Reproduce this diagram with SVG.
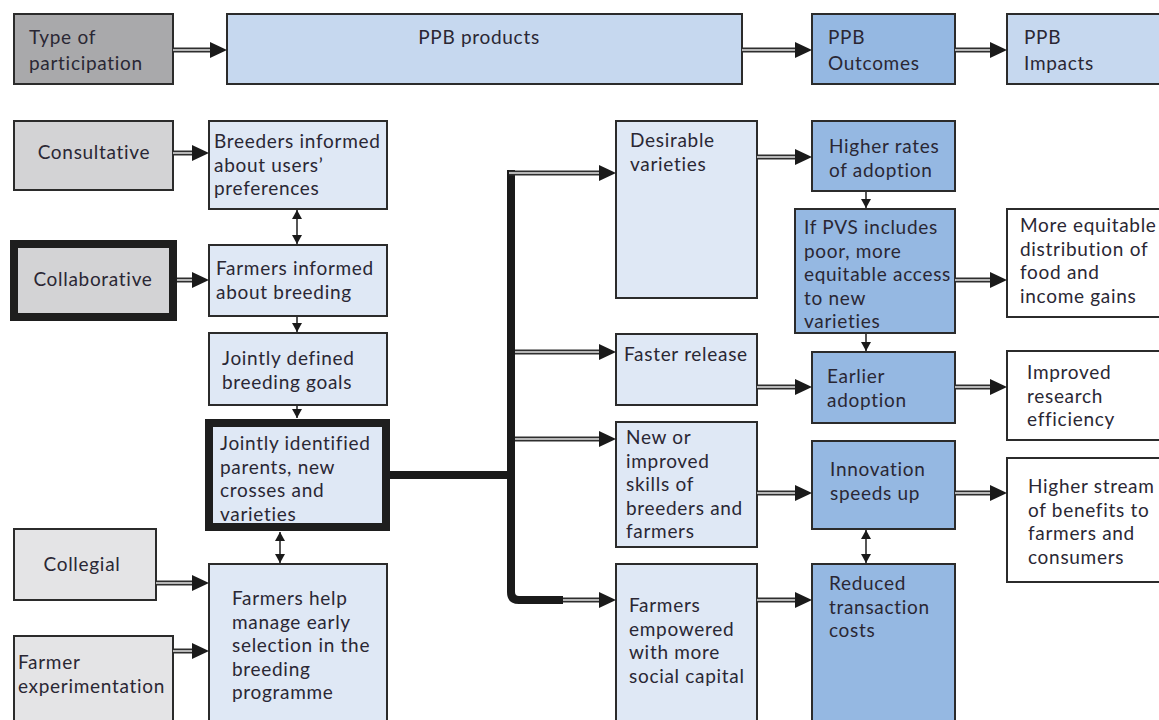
<svg xmlns="http://www.w3.org/2000/svg" width="1159" height="720" viewBox="0 0 1159 720">
<style>
  .box{stroke:#2b2b2b;stroke-width:2}
  .thick{stroke:#1e1e1e;stroke-width:8}
  .g1{fill:#a9a9ab}
  .g2{fill:#d3d3d5}
  .g3{fill:#e4e4e6}
  .b1{fill:#c6d8ef}
  .b2{fill:#95b8e2}
  .b3{fill:#dfe8f5}
  .w{fill:#ffffff}
  text{font-family:Lato,"Open Sans",sans-serif;font-size:19px;letter-spacing:0.7px;fill:#2a2734}
  .c{text-anchor:middle}
  .dbl{stroke:#2e2e2e;stroke-width:5;fill:none}
  .dblin{stroke:#e6e6e6;stroke-width:1.5;fill:none}
  .sm{stroke:#2b2b2b;stroke-width:1.6;fill:none}
  .bar{stroke:#1a1a1a;stroke-width:8;fill:none}
</style>
<defs>
  <marker id="bh" viewBox="0 0 17 16" refX="0" refY="8" markerWidth="17" markerHeight="16" markerUnits="userSpaceOnUse" orient="auto">
    <path d="M0,0 L17,8 L0,16 z" fill="#1a1a1a"/>
  </marker>
  <marker id="sh" viewBox="0 0 9 10" refX="9" refY="5" markerWidth="9" markerHeight="10" markerUnits="userSpaceOnUse" orient="auto-start-reverse">
    <path d="M0,0 L9,5 L0,10 z" fill="#1a1a1a"/>
  </marker>
</defs>
<rect width="1159" height="720" fill="#ffffff"/>

<g id="type-of-participation"><rect class="box g1" x="14" y="14" width="159" height="70"/><text x="29" y="44">Type of<tspan x="29" dy="26">participation</tspan></text></g>
<g id="ppb-products"><rect class="box b1" x="227" y="14" width="515" height="70"/><text class="c" x="479" y="44">PPB products</text></g>
<g id="ppb-outcomes"><rect class="box b2" x="812" y="14" width="143" height="70"/><text x="828" y="44">PPB<tspan x="828" dy="26">Outcomes</tspan></text></g>
<g id="ppb-impacts"><rect class="box b1" x="1007" y="14" width="162" height="70"/><text x="1024" y="44">PPB<tspan x="1024" dy="26">Impacts</tspan></text></g>

<g id="consultative"><rect class="box g2" x="14" y="121" width="159" height="69"/><text class="c" x="94" y="159">Consultative</text></g>
<g id="collaborative"><rect class="thick g2" x="14" y="244" width="159" height="73"/><text class="c" x="93" y="286">Collaborative</text></g>
<g id="collegial"><rect class="box g3" x="14" y="529" width="142" height="71"/><text class="c" x="82" y="571">Collegial</text></g>
<g id="farmer-experimentation"><rect class="box g3" x="14" y="636" width="159" height="100"/><text x="18" y="669">Farmer<tspan x="18" dy="23.5">experimentation</tspan></text></g>

<g id="breeders-informed"><rect class="box b3" x="209" y="121" width="178" height="88"/><text x="214" y="148">Breeders informed<tspan x="214" dy="23.5">about users’</tspan><tspan x="214" dy="23.5">preferences</tspan></text></g>
<g id="farmers-informed"><rect class="box b3" x="209" y="245" width="178" height="71"/><text x="216" y="275">Farmers informed<tspan x="216" dy="24">about breeding</tspan></text></g>
<g id="jointly-defined"><rect class="box b3" x="209" y="333" width="178" height="72"/><text x="222" y="365">Jointly defined<tspan x="222" dy="23.5">breeding goals</tspan></text></g>
<g id="jointly-identified"><rect class="thick b3" x="209" y="423" width="177" height="104"/><text x="220" y="450">Jointly identified<tspan x="220" dy="23.5">parents, new</tspan><tspan x="220" dy="23.5">crosses and</tspan><tspan x="220" dy="23.5">varieties</tspan></text></g>
<g id="farmers-help"><rect class="box b3" x="209" y="564" width="178" height="170"/><text x="232" y="605">Farmers help<tspan x="232" dy="23.5">manage early</tspan><tspan x="232" dy="23.5">selection in the</tspan><tspan x="232" dy="23.5">breeding</tspan><tspan x="232" dy="23.5">programme</tspan></text></g>

<g id="desirable-varieties"><rect class="box b3" x="616" y="121" width="141" height="177"/><text x="630" y="147">Desirable<tspan x="630" dy="23.5">varieties</tspan></text></g>
<g id="faster-release"><rect class="box b3" x="616" y="334" width="141" height="71"/><text x="624" y="361">Faster release</text></g>
<g id="new-skills"><rect class="box b3" x="616" y="422" width="141" height="125"/><text x="626" y="444">New or<tspan x="626" dy="23.5">improved</tspan><tspan x="626" dy="23.5">skills of</tspan><tspan x="626" dy="23.5">breeders and</tspan><tspan x="626" dy="23.5">farmers</tspan></text></g>
<g id="farmers-empowered"><rect class="box b3" x="616" y="564" width="141" height="170"/><text x="629" y="612">Farmers<tspan x="629" dy="23.5">empowered</tspan><tspan x="629" dy="23.5">with more</tspan><tspan x="629" dy="23.5">social capital</tspan></text></g>

<g id="higher-rates"><rect class="box b2" x="812" y="121" width="143" height="70"/><text x="829" y="153">Higher rates<tspan x="829" dy="24">of adoption</tspan></text></g>
<g id="if-pvs"><rect class="box b2" x="795" y="209" width="160" height="124"/><text x="804" y="234">If PVS includes<tspan x="804" dy="23.5">poor, more</tspan><tspan x="804" dy="23.5">equitable access</tspan><tspan x="804" dy="23.5">to new</tspan><tspan x="804" dy="23.5">varieties</tspan></text></g>
<g id="earlier-adoption"><rect class="box b2" x="812" y="352" width="143" height="71"/><text x="827" y="383">Earlier<tspan x="827" dy="23.5">adoption</tspan></text></g>
<g id="innovation"><rect class="box b2" x="812" y="441" width="143" height="88"/><text x="830" y="476">Innovation<tspan x="830" dy="24">speeds up</tspan></text></g>
<g id="reduced-costs"><rect class="box b2" x="812" y="564" width="143" height="170"/><text x="829" y="590">Reduced<tspan x="829" dy="23.5">transaction</tspan><tspan x="829" dy="23.5">costs</tspan></text></g>

<g id="more-equitable"><rect class="box w" x="1007" y="209" width="162" height="108"/><text x="1020" y="232">More equitable<tspan x="1020" dy="23.7">distribution of</tspan><tspan x="1020" dy="23.7">food and</tspan><tspan x="1020" dy="23.7">income gains</tspan></text></g>
<g id="improved-research"><rect class="box w" x="1007" y="351" width="162" height="89"/><text x="1027" y="379">Improved<tspan x="1027" dy="23.5">research</tspan><tspan x="1027" dy="23.5">efficiency</tspan></text></g>
<g id="higher-stream"><rect class="box w" x="1007" y="458" width="162" height="124"/><text x="1028" y="493">Higher stream<tspan x="1028" dy="23.5">of benefits to</tspan><tspan x="1028" dy="23.5">farmers and</tspan><tspan x="1028" dy="23.5">consumers</tspan></text></g>

<g id="connectors">
  <path class="bar" d="M390,475 H511 M511,170 V592 Q511,600 519,600 H563"/>
  <g marker-end="url(#bh)" class="dbl">
    <path d="M173,50 H210"/><path d="M742,50 H795"/><path d="M955,50 H990"/>
    <path d="M173,153 H192"/><path d="M177,280 H192"/><path d="M156,583 H192"/><path d="M173,651 H192"/>
    <path d="M509,173 H599"/><path d="M515,352 H599"/><path d="M515,439 H599"/><path d="M563,600 H599"/>
    <path d="M757,157 H795"/><path d="M757,387 H795"/><path d="M757,493 H795"/><path d="M757,600 H795"/>
    <path d="M955,280 H990"/><path d="M955,387 H990"/><path d="M955,493 H990"/>
  </g>
  <g class="dblin">
    <path d="M173,50 H210"/><path d="M742,50 H795"/><path d="M955,50 H990"/>
    <path d="M173,153 H192"/><path d="M177,280 H192"/><path d="M156,583 H192"/><path d="M173,651 H192"/>
    <path d="M509,173 H599"/><path d="M515,352 H599"/><path d="M515,439 H599"/><path d="M563,600 H599"/>
    <path d="M757,157 H795"/><path d="M757,387 H795"/><path d="M757,493 H795"/><path d="M757,600 H795"/>
    <path d="M955,280 H990"/><path d="M955,387 H990"/><path d="M955,493 H990"/>
  </g>
  <g class="sm" marker-end="url(#sh)">
    <path d="M297,210 V244" marker-start="url(#sh)"/>
    <path d="M297,317 V332"/>
    <path d="M297,406 V418"/>
    <path d="M280,532 V563" marker-start="url(#sh)"/>
    <path d="M866,192 V208"/>
    <path d="M866,334 V351"/>
    <path d="M866,530 V563" marker-start="url(#sh)"/>
  </g>
</g>
</svg>
